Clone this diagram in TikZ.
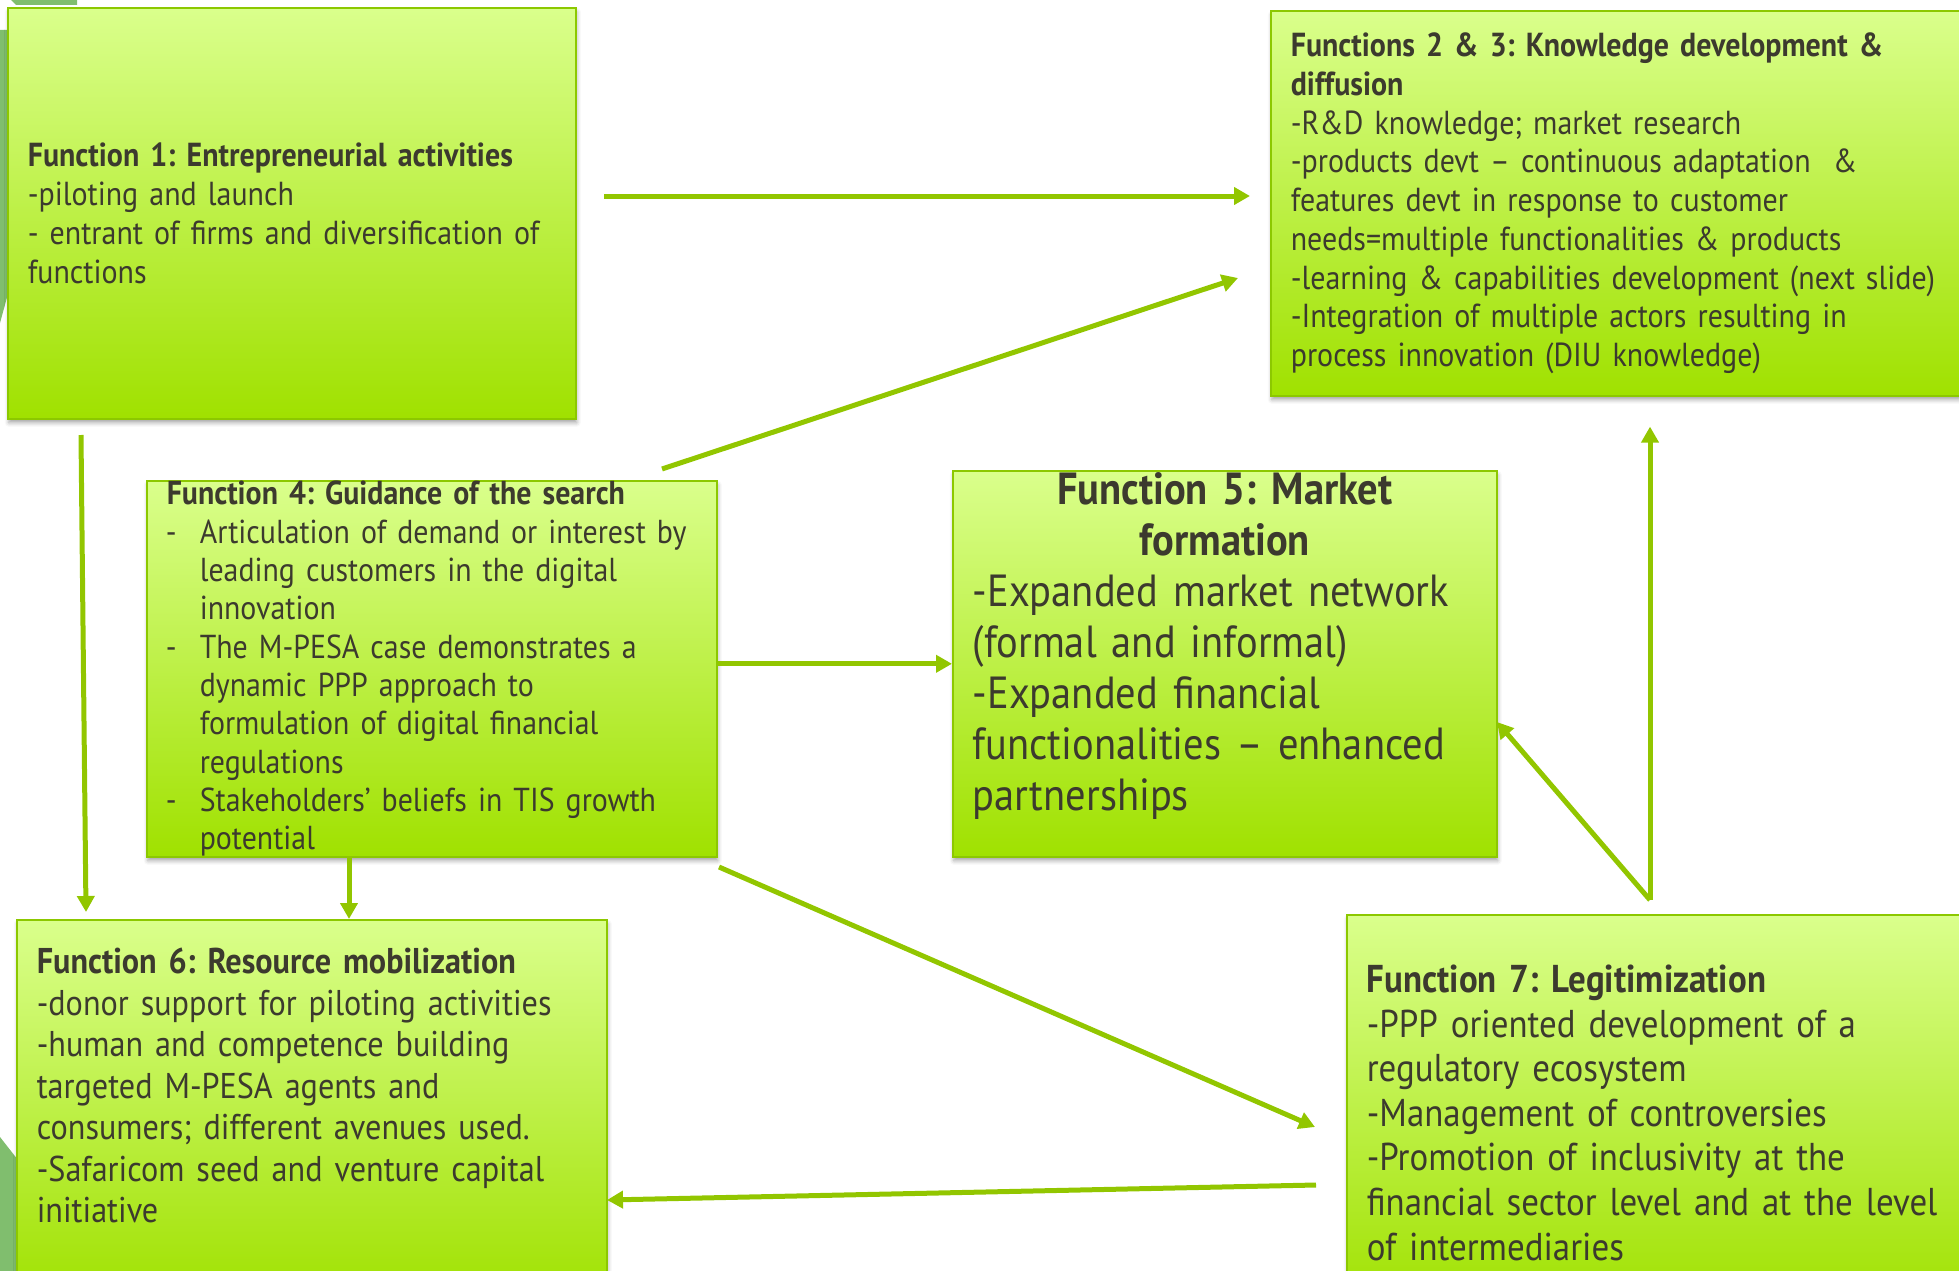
\documentclass[tikz,border=0pt]{standalone}
\usepackage{fontspec}
\setmainfont{PT Sans}[FakeStretch=0.9]
\usetikzlibrary{arrows.meta,shadows.blur}

\definecolor{limetop}{RGB}{218,255,140}
\definecolor{limebot}{RGB}{160,225,0}
\definecolor{limeline}{RGB}{140,200,0}
\definecolor{arrowgreen}{RGB}{146,198,0}
\definecolor{inkgray}{RGB}{60,58,46}
\definecolor{leafgreen}{RGB}{128,190,110}

% dash bullet and hanging indent for the guidance list
\newcommand\fitem{\makebox[35pt][l]{\hspace{1pt}-}}
\newcommand\findent{\hspace*{35pt}}
\newcommand\fmid[1]{\hspace*{\fill}#1\hspace*{\fill}\null}
\frenchspacing

\begin{document}
\begin{tikzpicture}[
  x=1pt, y=-1pt,
  fbox/.style={draw=limeline, line width=1.6pt, top color=limetop, bottom color=limebot,
               anchor=north west, inner xsep=20pt, inner ysep=0pt, align=left, text=inkgray,
               blur shadow={shadow xshift=1pt, shadow yshift=-4pt,
                            shadow blur radius=4pt, shadow opacity=35}},
  body/.style={font=\fontsize{33.3}{38.75}\selectfont},
  arr/.style={-{Triangle[length=16pt,width=17pt]}, line width=5pt, draw=arrowgreen}
]
\useasboundingbox (0,0) rectangle (1959,1271);
\clip (0,0) rectangle (1959,1271);

% slide decorations on the left edge
\fill[leafgreen] (11,0) -- (77,0) -- (77,5) -- (16,5) -- cycle;
\fill[leafgreen] (0,30) -- (9,30) -- (9,290) -- (0,323) -- cycle;
\fill[leafgreen] (0,1137) -- (18,1160) -- (18,1271) -- (0,1271) -- cycle;

% the seven functions
\node[fbox, body, minimum width=566pt, minimum height=411pt, text width=528pt] (f1) at (7,7)
  {\textbf{Function 1: Entrepreneurial activities}\\
   -piloting and launch\\
   - entrant of firms and diversification of\\
   functions};

\node[fbox, body, minimum width=700pt, minimum height=385pt, text width=660pt] (f23) at (1270,10)
  {\textbf{Functions 2 \& 3: Knowledge development \&}\\
   \textbf{diffusion}\\
   -R\&D knowledge; market research\\
   -products devt – continuous adaptation~~\&\\
   features devt in response to customer\\
   needs=multiple functionalities \& products\\
   -learning \& capabilities development (next slide)\\
   -Integration of multiple actors resulting in\\
   process innovation (DIU knowledge)};

\node[fbox, font=\fontsize{33.2}{38.3}\selectfont, minimum width=570pt, minimum height=376pt,
      text width=534pt, inner xsep=18pt] (f4) at (146,480)
  {\hspace*{2pt}\textbf{Function 4: Guidance of the search}\\
   \fitem Articulation of demand or interest by\\
   \findent leading customers in the digital\\
   \findent innovation\\
   \fitem The M-PESA case demonstrates a\\
   \findent dynamic PPP approach to\\
   \findent formulation of digital financial\\
   \findent regulations\\
   \fitem Stakeholders’ beliefs in TIS growth\\
   \findent potential};

\node[fbox, font=\fontsize{45}{51}\selectfont, minimum width=544pt, minimum height=386pt,
      text width=504pt, text depth=351pt] (f5) at (952,470)
  {\fmid{\textbf{Function 5: Market}}\\
   \fmid{\textbf{formation}}\\
   -Expanded market network\\
   (formal and informal)\\
   -Expanded financial\\
   functionalities – enhanced\\
   partnerships};

\node[fbox, font=\fontsize{35.8}{41.5}\selectfont, minimum width=590pt, minimum height=381pt,
      text width=550pt, text depth=299pt] (f6) at (16,919)
  {\textbf{Function 6: Resource mobilization}\\
   -donor support for piloting activities\\
   -human and competence building\\
   targeted M-PESA agents and\\
   consumers; different avenues used.\\
   -Safaricom seed and venture capital\\
   initiative};

\node[fbox, font=\fontsize{38.8}{44.6}\selectfont, minimum width=624pt, minimum height=396pt,
      text width=584pt] (f7) at (1346,914)
  {\textbf{Function 7: Legitimization}\\
   -PPP oriented development of a\\
   regulatory ecosystem\\
   -Management of controversies\\
   -Promotion of inclusivity at the\\
   financial sector level and at the level\\
   of intermediaries};

% free ends of the connectors
\coordinate (f1r) at (604,196);
\coordinate (f23l) at (1250,196);
\coordinate (f4t) at (662,469);
\coordinate (f23d) at (1238,278);
\coordinate (f1b) at (81,435);
\coordinate (f6tl) at (86,912);
\coordinate (f4b) at (349,856);
\coordinate (f4c) at (719,867);
\coordinate (f7l) at (1315,1127);
\coordinate (f7w) at (1316,1185);
\coordinate (f6r) at (607,1200);
\coordinate (f7t) at (1650,900);
\coordinate (f5r) at (1497,722);

\draw[arr] (f1r) -- (f23l);
\draw[arr] (f4t) -- (f23d);
\draw[arr] (f1b) -- (f6tl);
\draw[arr] (f4b) -- (f4b |- f6.north);
\draw[arr] (f4.east |- f5.west) -- (f5.west);
\draw[arr] (f4c) -- (f7l);
\draw[arr] (f7w) -- (f6r);
\draw[arr, shorten >=30pt] (f7t) -- (f7t |- f23.south);
\draw[arr] (f7t) -- (f5r);
\end{tikzpicture}
\end{document}
